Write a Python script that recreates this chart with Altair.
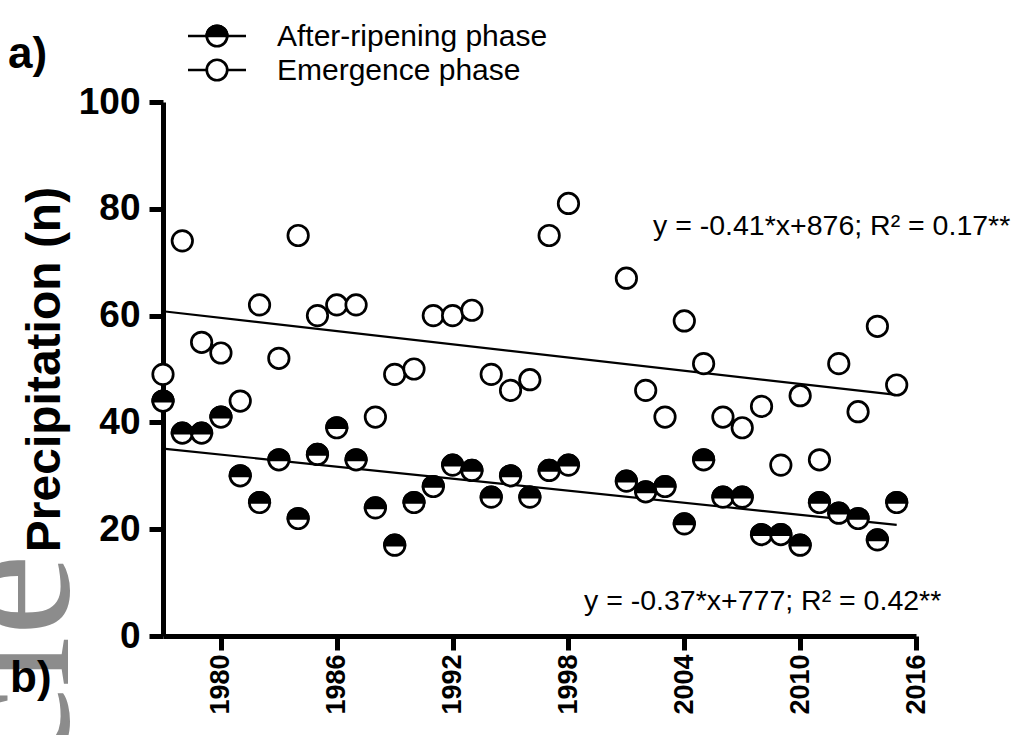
import altair as alt
import pandas as pd

# ---- data ----
years = list(range(1977, 1999)) + list(range(2001, 2016))
emergence = [49, 74, 55, 53, 44, 62, 52, 75, 60, 62, 62, 41, 49, 50, 60, 60, 61, 49, 46, 48, 75, 81,
             67, 46, 41, 59, 51, 41, 39, 43, 32, 45, 33, 51, 42, 58, 47]
after_ripening = [44, 38, 38, 41, 30, 25, 33, 22, 34, 39, 33, 24, 17, 25, 28, 32, 31, 26, 30, 26, 31, 32,
                  29, 27, 28, 21, 33, 26, 26, 19, 19, 17, 25, 23, 22, 18, 25]
series_names = ["After-ripening phase", "Emergence phase"]
x_ticks = [1980, 1986, 1992, 1998, 2004, 2010, 2016]
y_ticks = [0, 20, 40, 60, 80, 100]
equations = ["y = -0.41*x+876; R\u00b2 = 0.17**", "y = -0.37*x+777; R\u00b2 = 0.42**"]
panel_labels = ["a)", "b)"]
watermark = ["cle"]

df = pd.DataFrame({
    "year": years + years,
    "value": after_ripening + emergence,
    "series": [series_names[0]] * len(years) + [series_names[1]] * len(years),
})

W, H = 753, 534
LEFT, TOP = 163, 102
FONT = "Liberation Sans"
HALF_TOP = "M-1,0A1,1,0,0,1,1,0Z"

x_scale = alt.Scale(domain=[1977, 2016], nice=False, zero=False)
y_scale = alt.Scale(domain=[0, 100], nice=False, zero=True)

x_axis = alt.Axis(values=x_ticks, format="d", labelAngle=270, labelAlign="right",
                  labelBaseline="middle", labelFont=FONT, labelFontWeight="bold",
                  labelFontSize=27, labelColor="black", tickSize=14, tickWidth=5,
                  tickColor="black", domainWidth=5, domainColor="black",
                  labelPadding=4, grid=False, title=None)
y_axis = alt.Axis(values=y_ticks, labelFont=FONT, labelFontWeight="bold", labelFontSize=37,
                  labelColor="black", tickSize=14, tickWidth=5, tickColor="black",
                  domainWidth=5, domainColor="black", labelPadding=9, grid=False,
                  title="Precipitation (n)", titleFont=FONT, titleFontWeight="bold",
                  titleFontSize=48, titleColor="black", titlePadding=9)

base = alt.Chart(df)
X = alt.X("year:Q", scale=x_scale, axis=x_axis)
Y = alt.Y("value:Q", scale=y_scale, axis=y_axis)

emerg = base.transform_filter(alt.datum.series == series_names[1])
after = base.transform_filter(alt.datum.series == series_names[0])

reg_e = emerg.transform_regression("year", "value", extent=[1977, 2015]).mark_line(
    color="black", strokeWidth=2.2).encode(x=X, y=Y)
reg_a = after.transform_regression("year", "value", extent=[1977, 2015]).mark_line(
    color="black", strokeWidth=2.2).encode(x=X, y=Y)

SIZE = 420
SW = 2.7
pts_e = emerg.mark_point(shape="circle", filled=True, fill="white", stroke="black",
                         strokeWidth=SW, size=SIZE, opacity=1).encode(x=X, y=Y)
pts_a_bg = after.mark_point(shape="circle", filled=True, fill="white", stroke="black",
                            strokeWidth=SW, size=SIZE, opacity=1).encode(x=X, y=Y)
pts_a_top = after.mark_point(shape=HALF_TOP, filled=True, fill="black", stroke="black",
                             strokeWidth=SW, size=SIZE, opacity=1).encode(x=X, y=Y)

# ---- legend (drawn by hand) ----
legend_layers = []
row_y = [36, 70]
for i, name in enumerate(series_names):
    ld = alt.Chart(pd.DataFrame({"label": [name]}))
    yy = row_y[i] - TOP
    legend_layers.append(ld.mark_rule(color="black", strokeWidth=2.4).encode(
        x=alt.value(188 - LEFT), x2=alt.value(246 - LEFT), y=alt.value(yy)))
    legend_layers.append(ld.mark_point(shape="circle", filled=True, fill="white", stroke="black",
                                       strokeWidth=SW, size=SIZE, opacity=1).encode(
        x=alt.value(217 - LEFT), y=alt.value(yy)))
    if i == 0:
        legend_layers.append(ld.mark_point(shape=HALF_TOP, filled=True, fill="black", stroke="black",
                                           strokeWidth=SW, size=SIZE, opacity=1).encode(
            x=alt.value(217 - LEFT), y=alt.value(yy)))
    legend_layers.append(ld.mark_text(align="left", baseline="alphabetic", font=FONT,
                                      fontSize=30, color="black").encode(
        text="label:N", x=alt.value(277 - LEFT), y=alt.value(row_y[i] + 10 - TOP)))

# ---- equations ----
eq_pos = [(653, 235), (584, 610)]
eq_layers = []
for (ex, ey), eq in zip(eq_pos, equations):
    eq_layers.append(alt.Chart(pd.DataFrame({"t": [eq]})).mark_text(
        align="left", baseline="alphabetic", font=FONT, fontSize=28.5, color="black").encode(
        text="t:N", x=alt.value(ex - LEFT), y=alt.value(ey - TOP)))

# ---- watermark and panel labels ----
wm = alt.Chart(pd.DataFrame({"t": watermark})).mark_text(
    align="right", baseline="alphabetic", angle=270, font="Liberation Serif",
    fontSize=185, color="#8c8c8c").encode(
    text="t:N", x=alt.value(68 - LEFT), y=alt.value(554 - TOP))

lab_pos = [(8, 68), (10, 692)]
lab_layers = []
for (lx, ly), lab in zip(lab_pos, panel_labels):
    lab_layers.append(alt.Chart(pd.DataFrame({"t": [lab]})).mark_text(
        align="left", baseline="alphabetic", font=FONT, fontWeight="bold",
        fontSize=44, color="black").encode(
        text="t:N", x=alt.value(lx - LEFT), y=alt.value(ly - TOP)))

chart = alt.layer(
    wm, reg_e, reg_a, pts_e, pts_a_bg, pts_a_top, *legend_layers, *eq_layers, *lab_layers
).properties(
    width=W, height=H,
    autosize=alt.AutoSizeParams(type="none"),
    padding={"left": LEFT, "top": TOP, "right": 1017 - LEFT - W, "bottom": 735 - TOP - H},
    background="white",
).configure_view(stroke=None)

chart.save("out.html", embed_options={"renderer": "svg", "actions": False})
